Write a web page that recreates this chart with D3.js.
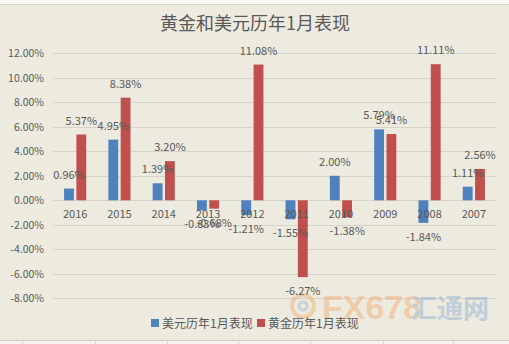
<!DOCTYPE html>
<html>
<head>
<meta charset="utf-8">
<script src="https://cdn.jsdelivr.net/npm/d3@7"></script>
<style>
  html, body { margin: 0; padding: 0; background: #edeae0; }
  svg { display: block; }
</style>
</head>
<body>
<svg id="chart" width="509" height="344"></svg>
<script>
// Years (categories) and January returns, in percent
const years = ["2016", "2015", "2014", "2013", "2012", "2011", "2010", "2009", "2008", "2007"];
const usdJan = [0.96, 4.95, 1.39, -0.83, -1.21, -1.55, 2.00, 5.79, -1.84, 1.11];
const goldJan = [5.37, 8.38, 3.20, -0.68, 11.08, -6.27, -1.38, 5.41, 11.11, 2.56];
const seriesNames = ["美元历年1月表现", "黄金历年1月表现"];
const yTicks = [12, 10, 8, 6, 4, 2, 0, -2, -4, -6, -8];
const chartTitle = "黄金和美元历年1月表现";

const colors = ["#4f81bd", "#c0504d"];
const textColor = "#595959";
const cjk = "'Noto Sans CJK SC', 'Noto Sans', sans-serif";

// percent format with a plain hyphen as the minus sign
const fmt = d3.formatLocale({ decimal: ".", thousands: ",", grouping: [3], currency: ["", ""], minus: "-" }).format(".2f");
const pct = d => fmt(d) + "%";

const svg = d3.select("#chart");
const W = 509, H = 344;
const plot = { left: 53, right: 496, top: 53.3, bottom: 298.3 };

// spreadsheet edge strips
svg.append("rect").attr("x", 0).attr("y", 0).attr("width", W).attr("height", H).attr("fill", "#edeae0");
svg.append("rect").attr("x", 0).attr("y", 0).attr("width", W).attr("height", 4).attr("fill", "#f7f6f2");
svg.append("line").attr("x1", 0).attr("x2", W).attr("y1", 4.5).attr("y2", 4.5).attr("stroke", "#d4d1c8");
svg.append("rect").attr("x", 0).attr("y", 340).attr("width", W).attr("height", 4).attr("fill", "#f4f3ef");
svg.append("line").attr("x1", 0).attr("x2", W).attr("y1", 340.5).attr("y2", 340.5).attr("stroke", "#cfccc3");
svg.selectAll("line.cell").data([22, 95, 167, 238, 310, 383, 453]).enter().append("line")
  .attr("class", "cell").attr("x1", d => d + 0.5).attr("x2", d => d + 0.5)
  .attr("y1", 340).attr("y2", H).attr("stroke", "#d8d5cc");

const y = d3.scaleLinear().domain([-8, 12]).range([plot.bottom, plot.top]);
const x0 = d3.scaleBand().domain(years).range([plot.left, plot.right])
  .paddingInner(0.5).paddingOuter(0.25);
const x1 = d3.scaleBand().domain([0, 1]).range([0, x0.bandwidth()]).paddingInner(0.2);

// gridlines
svg.append("g").selectAll("line").data(yTicks).enter().append("line")
  .attr("x1", plot.left).attr("x2", plot.right)
  .attr("y1", d => Math.round(y(d)) + 0.5).attr("y2", d => Math.round(y(d)) + 0.5)
  .attr("stroke", "#d6d3ca").attr("stroke-width", 1);

// y axis labels
const yAxis = d3.axisLeft(y).tickValues(yTicks).tickSize(0).tickPadding(0).tickFormat(pct);
const gy = svg.append("g").attr("transform", `translate(${plot.left - 9},0)`).call(yAxis);
gy.select(".domain").remove();
gy.selectAll("text").attr("fill", textColor).attr("font-family", cjk).attr("font-size", 10.5);

// watermark
const wm = svg.append("g").attr("opacity", 0.4);
wm.append("circle").attr("cx", 303).attr("cy", 306).attr("r", 11)
  .attr("fill", "none").attr("stroke", "#f0a860").attr("stroke-width", 4);
wm.append("circle").attr("cx", 303).attr("cy", 306).attr("r", 4)
  .attr("fill", "none").attr("stroke", "#8fb0d0").attr("stroke-width", 3);
wm.append("text").attr("x", 322).attr("y", 319).text("FX678")
  .attr("font-family", "'Liberation Sans', sans-serif").attr("font-weight", "bold")
  .attr("font-size", 34).attr("fill", "#f2a35c");
wm.append("text").attr("x", 411).attr("y", 318).text("汇通网")
  .attr("font-family", cjk).attr("font-weight", "bold")
  .attr("font-size", 26).attr("fill", "#7fa6cf");

// bars
const rows = years.map((yr, i) => ({ yr, vals: [usdJan[i], goldJan[i]] }));
const groups = svg.append("g").selectAll("g").data(rows).enter().append("g")
  .attr("transform", d => `translate(${x0(d.yr)},0)`);
groups.selectAll("rect").data(d => d.vals.map((v, s) => ({ v, s }))).enter().append("rect")
  .attr("x", d => x1(d.s)).attr("width", x1.bandwidth())
  .attr("y", d => y(Math.max(0, d.v)))
  .attr("height", d => Math.abs(y(d.v) - y(0)))
  .attr("fill", d => colors[d.s]);

// category labels
const xAxis = d3.axisBottom(x0).tickSize(0).tickPadding(0);
const gx = svg.append("g").attr("transform", `translate(0,${y(0) + 10})`).call(xAxis);
gx.select(".domain").remove();
gx.selectAll("text").attr("fill", textColor).attr("font-family", cjk).attr("font-size", 11);

// data labels
groups.selectAll("text.val").data(d => d.vals.map((v, s) => ({ v, s }))).enter().append("text")
  .attr("class", "val")
  .attr("x", d => x1(d.s) + x1.bandwidth() / 2)
  .attr("y", d => d.v >= 0 ? y(d.v) - 10 : y(d.v) + 18)
  .attr("text-anchor", "middle")
  .attr("fill", textColor).attr("font-family", cjk).attr("font-size", 11)
  .text(d => pct(d.v));

// title
svg.append("text").attr("x", 255).attr("y", 30).attr("text-anchor", "middle")
  .attr("fill", textColor).attr("font-family", cjk).attr("font-size", 18)
  .text(chartTitle);

// legend
const legend = svg.append("g");
const legX = [151, 257];
seriesNames.forEach((name, i) => {
  legend.append("rect").attr("x", legX[i]).attr("y", 319).attr("width", 8).attr("height", 8)
    .attr("fill", colors[i]);
  legend.append("text").attr("x", legX[i] + 11).attr("y", 327.5)
    .attr("fill", textColor).attr("font-family", cjk).attr("font-size", 12)
    .text(name);
});
</script>
</body>
</html>
